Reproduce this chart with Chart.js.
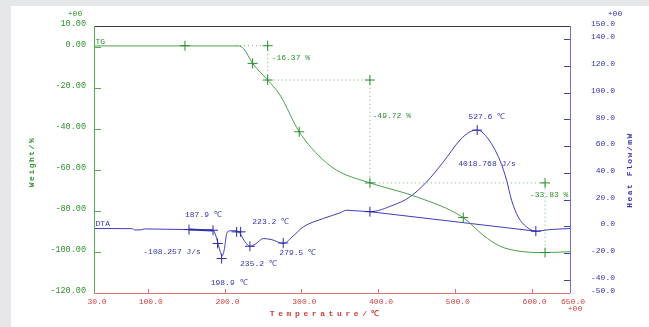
<!DOCTYPE html>
<html>
<head>
<meta charset="utf-8">
<script src="https://cdn.jsdelivr.net/npm/chart.js@4.4.1/dist/chart.umd.min.js"></script>
<style>
  html, body { margin: 0; padding: 0; background: #e6e7e9; }
  #wrap { width: 649px; height: 327px; position: relative; }
</style>
</head>
<body>
<div id="wrap"><canvas id="chart"></canvas></div>
<script>
// TG curve: weight (%) vs temperature (C)
const tgTemp   = [30, 150, 218, 225.3, 236.6, 256.2, 272.2, 297.3, 322.1, 346, 389.4, 450.2, 511, 537, 558.8, 584.9, 616.5, 650];
const tgWeight = [0.3, 0.3, 0.3, -1.2, -8.2, -16.3, -23.6, -41.5, -52.9, -60.2, -66.4, -73.2, -83.3, -91.9, -97.2, -99.7, -100.3, -99.9];

// DTA curve: heat flow (mW) vs temperature (C)
const dtaTemp = [30, 80, 83, 92, 96, 153.7, 185, 188.9, 192.8, 197.1, 200, 202.8, 207, 215.8, 220, 225.3, 233.1, 240.9, 250.4, 261.8, 276.5, 287.8, 302.5, 328.6, 350.3, 359, 389.4, 419.8, 441.5, 463.2, 485, 506.6, 519.6, 529.1, 541.3, 558.6, 567.4, 573.9, 582.5, 593.4, 605.5, 623.8, 650];
const dtaHeat = [-1.7, -1.8, -2.8, -2.6, -2.0, -2.5, -3.0, -7.5, -15.7, -22.1, -16.5, -5.5, -3.4, -3.4, -5.2, -10.5, -15, -13.1, -9.2, -10.1, -12.9, -8.2, -0.5, 5.8, 10, 12, 10.9, 15.8, 22, 33.2, 48.2, 64.5, 70.7, 72, 67, 49.5, 34.5, 19.5, 7, -0.5, -3.7, -2.5, -1.7];

// TG step analysis: dotted guide and "+" marks
const stepGuideT = [215, 256.2, 256.2, 389.4, 389.4, 617.5, 617.5];
const stepGuideW = [0.4, 0.4, -16.3, -16.3, -66.4, -66.4, -100.3];
const tgMarkT = [148.5, 256.2, 236.6, 256.2, 389.4, 297.3, 389.4, 511, 617.5, 617.5];
const tgMarkW = [0.4, 0.4, -8.2, -16.3, -16.3, -41.5, -66.4, -83.3, -66.4, -100.3];

// DTA peak analysis: baselines and "+" marks
const endoBaseT = [153.7, 185];
const endoBaseH = [-2.5, -3.2];
const exoBaseT = [389.4, 605.5];
const exoBaseH = [10.9, -3.7];
const dtaMarkT = [153.7, 185, 191, 196.2, 215.8, 221, 233.1, 276.5, 389.4, 529.1, 605.5];
const dtaMarkH = [-2.5, -3.0, -12.9, -24.2, -4.2, -4.2, -15, -12.5, 10.9, 72, -3.7];

// axis ticks
const xTicks = [30, 100, 200, 300, 400, 500, 600, 650];
const wTicks = [10, 0, -20, -40, -60, -80, -100, -120];
const hTicks = [150, 140, 120, 100, 80, 60, 40, 20, 0, -20, -40, -50];

const GREEN = '#2f8f2f';
const GREEN_LINE = '#4aa24a';
const BLUE = '#3434b0';
const BLUE_LINE = '#3d3dbb';
const RED = '#d23c3c';
const MONO = '"Liberation Mono", "DejaVu Sans Mono", monospace';

const zip = (xs, ys) => xs.map((x, i) => ({ x: x, y: ys[i] }));

// text annotations placed in data coordinates
const notes = [
  { text: 'TG', x: 32, y: 2.3, axis: 'yW', color: GREEN },
  { text: '-16.37 %', x: 261.4, y: -5.7, axis: 'yW', color: GREEN },
  { text: '-49.72 %', x: 392.8, y: -33.9, axis: 'yW', color: GREEN },
  { text: '-33.83 %', x: 597.9, y: -72, axis: 'yW', color: GREEN },
  { text: 'DTA', x: 32, y: 2.0, axis: 'yH', color: BLUE },
  { text: '187.9 ℃', x: 148.5, y: 8.8, axis: 'yH', color: BLUE },
  { text: '223.2 ℃', x: 236.2, y: 3.3, axis: 'yH', color: BLUE },
  { text: '-108.257 J/s', x: 94.2, y: -19.1, axis: 'yH', color: BLUE },
  { text: '198.9 ℃', x: 182, y: -42.2, axis: 'yH', color: BLUE },
  { text: '235.2 ℃', x: 220.2, y: -28.5, axis: 'yH', color: BLUE },
  { text: '279.5 ℃', x: 271.4, y: -19.7, axis: 'yH', color: BLUE },
  { text: '527.6 ℃', x: 517.6, y: 82, axis: 'yH', color: BLUE },
  { text: '4018.768 J/s', x: 504.5, y: 47, axis: 'yH', color: BLUE }
];

const decor = {
  id: 'decor',
  beforeDraw(chart) {
    const c = chart.ctx;
    c.save();
    c.fillStyle = '#e6e7e9';
    c.fillRect(0, 0, chart.width, chart.height);
    c.fillStyle = '#ffffff';
    c.fillRect(11, 6, chart.width - 11, chart.height - 6);
    c.restore();
  },
  afterDatasetsDraw(chart) {
    const c = chart.ctx;
    const a = chart.chartArea;
    const sx = chart.scales.x, sw = chart.scales.yW, sh = chart.scales.yH;
    c.save();
    c.lineWidth = 1;
    // top border
    c.strokeStyle = '#3a3a3a';
    c.beginPath(); c.moveTo(a.left, a.top + 0.5); c.lineTo(a.right, a.top + 0.5); c.stroke();
    // left axis + ticks
    c.strokeStyle = '#5aa85a';
    c.beginPath(); c.moveTo(a.left + 0.5, a.top); c.lineTo(a.left + 0.5, a.bottom); c.stroke();
    wTicks.slice(1, -1).forEach(v => {
      const y = Math.round(sw.getPixelForValue(v)) + 0.5;
      c.beginPath(); c.moveTo(a.left, y); c.lineTo(a.left + 7, y); c.stroke();
    });
    // right axis + ticks
    c.strokeStyle = '#6f6fcc';
    c.beginPath(); c.moveTo(a.right + 0.5, a.top); c.lineTo(a.right + 0.5, a.bottom); c.stroke();
    c.strokeStyle = '#4040b8';
    hTicks.slice(1, -1).forEach(v => {
      const y = Math.round(sh.getPixelForValue(v)) + 0.5;
      c.beginPath(); c.moveTo(a.right, y); c.lineTo(a.right - 6, y); c.stroke();
    });
    // bottom axis + ticks
    c.strokeStyle = '#e07272';
    c.beginPath(); c.moveTo(a.left, a.bottom + 0.5); c.lineTo(a.right, a.bottom + 0.5); c.stroke();
    xTicks.slice(1, -1).forEach(v => {
      const x = Math.round(sx.getPixelForValue(v)) + 0.5;
      c.beginPath(); c.moveTo(x, a.bottom); c.lineTo(x, a.bottom - 4); c.stroke();
    });
    c.restore();
  },
  afterDraw(chart) {
    const c = chart.ctx;
    const a = chart.chartArea;
    const sx = chart.scales.x;
    c.save();
    c.textBaseline = 'middle';
    c.font = '8px ' + MONO;
    notes.forEach(n => {
      c.fillStyle = n.color;
      c.textAlign = 'left';
      c.fillText(n.text, sx.getPixelForValue(n.x), chart.scales[n.axis].getPixelForValue(n.y));
    });
    // exponent markers
    c.textAlign = 'center';
    c.fillStyle = GREEN; c.fillText('+00', 75, 14);
    c.fillStyle = BLUE; c.fillText('+00', 615, 14);
    c.fillStyle = RED; c.fillText('+00', 575, 309);
    // axis titles
    c.font = 'bold 8px ' + MONO;
    c.letterSpacing = '3.6px';
    c.fillStyle = RED;
    c.fillText('Temperature/℃', (a.left + a.right) / 2 - 6, 314);
    c.letterSpacing = '1.5px';
    c.fillStyle = GREEN;
    c.translate(32, 162); c.rotate(-Math.PI / 2);
    c.fillText('Weight/%', 0, 0);
    c.setTransform(1, 0, 0, 1, 0, 0);
    c.fillStyle = BLUE;
    c.translate(630, 170); c.rotate(-Math.PI / 2);
    c.fillText('Heat Flow/mW', 0, 0);
    c.restore();
  }
};

const tickFont = { family: MONO, size: 8 };
const noGrid = { display: false, drawTicks: false };

new Chart(document.getElementById('chart'), {
  type: 'line',
  data: {
    datasets: [
      { data: zip(tgMarkT, tgMarkW), yAxisID: 'yW', showLine: false, pointStyle: 'cross', pointRadius: 5, pointBorderWidth: 1, borderColor: '#2a8a2a' },
      { data: zip(dtaMarkT, dtaMarkH), yAxisID: 'yH', showLine: false, pointStyle: 'cross', pointRadius: 5, pointBorderWidth: 1, borderColor: '#2a2aa8' },
      { data: zip(tgTemp, tgWeight), yAxisID: 'yW', borderColor: GREEN_LINE, borderWidth: 1, pointRadius: 0, cubicInterpolationMode: 'monotone' },
      { data: zip(dtaTemp, dtaHeat), yAxisID: 'yH', borderColor: BLUE_LINE, borderWidth: 1, pointRadius: 0, cubicInterpolationMode: 'monotone' },
      { data: zip(stepGuideT, stepGuideW), yAxisID: 'yW', borderColor: '#6fb86f', borderWidth: 1, borderDash: [1, 3], pointRadius: 0, tension: 0 },
      { data: zip(exoBaseT, exoBaseH), yAxisID: 'yH', borderColor: BLUE_LINE, borderWidth: 1, pointRadius: 0, tension: 0 },
      { data: zip(endoBaseT, endoBaseH), yAxisID: 'yH', borderColor: '#2a2aa8', borderWidth: 2, pointRadius: 0, tension: 0 }
    ]
  },
  options: {
    responsive: true,
    maintainAspectRatio: false,
    animation: false,
    layout: { padding: { left: 0, right: 34, top: 26, bottom: 0 } },
    plugins: { legend: { display: false }, tooltip: { enabled: false } },
    scales: {
      x: {
        type: 'linear', min: 30, max: 650,
        afterBuildTicks: s => { s.ticks = xTicks.map(v => ({ value: v })); },
        afterFit: s => { s.height = 34; },
        grid: noGrid, border: { display: false },
        ticks: { color: RED, font: tickFont, padding: 4, labelOffset: 3, autoSkip: false, maxRotation: 0, callback: v => v.toFixed(1) }
      },
      yW: {
        type: 'linear', position: 'left', min: -120, max: 10,
        afterBuildTicks: s => { s.ticks = wTicks.map(v => ({ value: v })); },
        afterFit: s => { s.width = 94; },
        grid: noGrid, border: { display: false },
        ticks: { color: GREEN, font: { family: MONO, size: 8.5 }, padding: 8, labelOffset: -2, autoSkip: false, callback: v => v.toFixed(2) }
      },
      yH: {
        type: 'linear', position: 'right', min: -50, max: 150,
        afterBuildTicks: s => { s.ticks = hTicks.map(v => ({ value: v })); },
        afterFit: s => { s.width = 45; },
        grid: noGrid, border: { display: false },
        ticks: { color: BLUE, font: tickFont, crossAlign: 'far', labelOffset: -2, autoSkip: false, callback: v => v.toFixed(1) }
      }
    }
  },
  plugins: [decor]
});
</script>
</body>
</html>
